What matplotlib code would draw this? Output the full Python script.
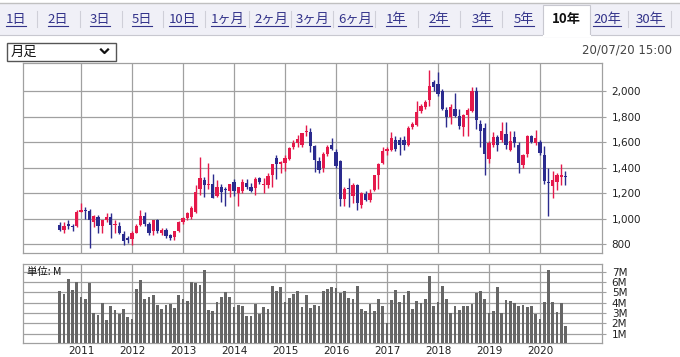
import numpy as np
import matplotlib.pyplot as plt
from matplotlib.patches import Rectangle

# 月足 data, Aug 2010 .. Jul 2020 (one entry per month)
opens = [950, 910, 960, 935, 940, 1055, 1065, 1060, 975, 1015, 945, 985,
         1015, 950, 940, 880, 850, 840, 890, 950, 1020, 960, 905, 990,
         890, 910, 870, 855, 905, 975, 1005, 1015, 1055, 1235, 1300, 1265,
         1275, 1180, 1250, 1230, 1220, 1290, 1200, 1220, 1280, 1250, 1240, 1315,
         1265, 1265, 1340, 1475, 1425, 1440, 1470, 1560, 1590, 1575, 1680, 1680,
         1570, 1450, 1395, 1505, 1580, 1525, 1450, 1150, 1235, 1180, 1260, 1110,
         1190, 1145, 1225, 1345, 1435, 1530, 1540, 1620, 1620, 1615, 1575, 1720,
         1735, 1845, 1875, 1930, 2070, 2060, 2000, 1850, 1800, 1860, 1805, 1720,
         1810, 1845, 2000, 1745, 1715, 1465, 1575, 1640, 1615, 1665, 1540, 1640,
         1580, 1420, 1505, 1645, 1590, 1600, 1500, 1290, 1255, 1290, 1330, 1335]
highs = [975, 975, 990, 960, 1065, 1120, 1090, 1075, 1025, 1030, 990, 1040,
         1045, 990, 970, 900, 865, 900, 960, 1070, 1055, 975, 990, 1000,
         925, 925, 880, 905, 980, 1010, 1050, 1095, 1260, 1485, 1325, 1440,
         1350, 1300, 1270, 1250, 1275, 1310, 1250, 1310, 1310, 1280, 1325, 1330,
         1320, 1360, 1430, 1500, 1450, 1500, 1560, 1620, 1660, 1675, 1735, 1710,
         1580, 1485, 1520, 1580, 1630, 1550, 1460, 1250, 1315, 1280, 1270, 1210,
         1220, 1235, 1340, 1435, 1565, 1565, 1680, 1650, 1640, 1650, 1730, 1760,
         1920, 1900, 1930, 2170, 2090, 2150, 2020, 1880, 1900, 1990, 1860, 1820,
         1870, 2030, 2030, 1775, 1750, 1610, 1680, 1660, 1760, 1760, 1690, 1690,
         1600, 1510, 1660, 1660, 1695, 1620, 1570, 1400, 1370, 1360, 1425, 1375]
lows = [900, 890, 920, 900, 935, 1050, 1000, 770, 930, 890, 890, 975,
        850, 890, 880, 790, 810, 795, 885, 940, 940, 870, 870, 890,
        870, 850, 830, 830, 895, 960, 990, 1000, 1045, 1185, 1170, 1230,
        1160, 1170, 1130, 1100, 1170, 1175, 1095, 1200, 1230, 1210, 1185, 1270,
        1200, 1240, 1245, 1310, 1360, 1370, 1460, 1545, 1560, 1560, 1650, 1525,
        1365, 1355, 1365, 1490, 1540, 1400, 1100, 1100, 1090, 1120, 1070, 1080,
        1140, 1130, 1215, 1230, 1425, 1500, 1530, 1530, 1500, 1540, 1570, 1700,
        1730, 1830, 1860, 1885, 2000, 1960, 1850, 1720, 1740, 1800, 1700, 1650,
        1650, 1840, 1700, 1560, 1340, 1435, 1560, 1530, 1600, 1550, 1530, 1560,
        1360, 1400, 1480, 1590, 1580, 1500, 1270, 1020, 1165, 1225, 1260, 1260]
closes = [910, 945, 940, 930, 1055, 1065, 1060, 990, 1020, 940, 985, 1015,
          950, 955, 890, 820, 835, 885, 945, 1020, 955, 890, 985, 905,
          910, 860, 850, 900, 975, 1005, 1040, 1085, 1205, 1320, 1260, 1270,
          1165, 1250, 1210, 1225, 1275, 1220, 1250, 1285, 1250, 1220, 1310, 1285,
          1270, 1335, 1425, 1425, 1445, 1475, 1555, 1590, 1625, 1675, 1690, 1570,
          1460, 1380, 1510, 1560, 1545, 1415, 1150, 1235, 1230, 1260, 1125, 1200,
          1145, 1200, 1340, 1430, 1530, 1545, 1635, 1545, 1580, 1580, 1715, 1740,
          1835, 1885, 1915, 2040, 2030, 1975, 1860, 1800, 1880, 1805, 1725, 1810,
          1850, 2000, 1775, 1690, 1510, 1590, 1640, 1580, 1690, 1580, 1610, 1590,
          1435, 1500, 1650, 1605, 1630, 1515, 1295, 1280, 1305, 1340, 1345, 1325]
volumes = [5.16, 4.87, 6.32, 5.26, 6.03, 4.58, 4.39, 5.94, 3.0, 2.84, 4.0, 2.35,
           3.71, 3.32, 2.94, 3.42, 2.65, 2.45, 5.35, 6.23, 4.39, 4.58, 4.77, 3.81,
           3.42, 3.81, 3.9, 3.52, 4.77, 4.39, 4.19, 6.03, 5.94, 5.74, 7.19, 3.32,
           3.23, 4.1, 4.58, 5.06, 4.58, 3.61, 3.81, 3.71, 2.74, 2.74, 3.9, 2.94,
           3.61, 3.42, 5.65, 5.16, 5.55, 4.03, 4.48, 4.87, 5.16, 3.61, 4.77, 3.52,
           3.81, 3.71, 5.16, 5.35, 5.55, 5.45, 4.97, 5.16, 4.48, 4.39, 5.65, 3.42,
           3.23, 3.9, 3.23, 4.39, 3.71, 2.06, 4.29, 5.26, 4.1, 4.77, 5.16, 3.42,
           4.19, 4.0, 4.39, 6.61, 3.71, 4.1, 5.65, 4.39, 3.03, 3.71, 3.32, 3.71,
           3.71, 3.9, 4.97, 5.16, 4.39, 3.03, 3.23, 5.55, 3.03, 4.29, 4.19, 4.0,
           3.71, 3.81, 3.61, 3.71, 2.94, 2.45, 4.1, 7.19, 4.1, 3.13, 4.0, 1.77]
start_year, start_month = 2010, 8
years = list(range(2011, 2021))
price_ticks = [800, 1000, 1200, 1400, 1600, 1800, 2000]
vol_ticks = [1, 2, 3, 4, 5, 6, 7]
tabs = ['1日', '2日', '3日', '5日', '10日', '1ヶ月', '2ヶ月', '3ヶ月', '6ヶ月',
        '1年', '2年', '3年', '5年', '10年', '20年', '30年']
selected_tab = '10年'
timestamp = '20/07/20 15:00'

W, H = 680, 357
RED = '#e5194b'
NAVY = '#2b2b8e'
GRID = '#a0a0a0'
JP = ['Noto Sans CJK JP', 'DejaVu Sans']

fig = plt.figure(figsize=(W / 100, H / 100), dpi=100)

# background layer in pixel coordinates for the page widgets
bg = fig.add_axes([0, 0, 1, 1])
bg.set_xlim(0, W)
bg.set_ylim(H, 0)
bg.axis('off')

bg.add_patch(Rectangle((0, 3), W, 32, facecolor='#f0f0f7', edgecolor='none'))
bg.plot([0, W], [2.5, 2.5], color='#c0c0c0', lw=1)
bg.plot([0, 543], [35, 35], color='#c8c8d0', lw=0.8)
bg.plot([590, W], [35, 35], color='#c8c8d0', lw=0.8)
bg.add_patch(Rectangle((543, 5), 47, 31, facecolor='white', edgecolor='#c8c8d0', lw=0.8))
bg.plot([543.5, 589.5], [35.5, 35.5], color='white', lw=1.5)

tab_x = [16, 58, 100, 142, 183, 228, 271, 313, 355, 396, 439, 482, 524, 566, 607, 650]
sep_x = [37, 80, 122, 163, 205, 249, 291, 333, 375, 418, 460, 502, 628, 671]
for sx in sep_x:
    bg.plot([sx, sx], [11, 27], color='#cfcfd8', lw=0.8)

tab_texts = []
for name, tx in zip(tabs, tab_x):
    if name == selected_tab:
        bg.text(tx, 19, name, ha='center', va='center', fontsize=9.5,
                fontweight='bold', color='#111111', family=JP)
    else:
        t = bg.text(tx, 19, name, ha='center', va='center', fontsize=9.5,
                    color='#33338a', family=JP)
        tab_texts.append(t)

# dropdown
bg.add_patch(Rectangle((7, 43), 109, 18, facecolor='white', edgecolor='#555555', lw=1))
bg.text(11, 52.5, '月足', ha='left', va='center', fontsize=9.5, color='#111111', family=JP)
bg.plot([101, 104.5, 108], [49.5, 53, 49.5], color='#111111', lw=1.6)
bg.text(672, 50, timestamp, ha='right', va='center', fontsize=8.5, color='#444444')

# months as x positions
n = len(opens)
x = np.arange(n)
jan_idx = [(y - start_year) * 12 + 1 - start_month for y in years]
xlim = (-8.65, 127.6)

o = np.array(opens, dtype=float)
c = np.array(closes, dtype=float)
colors = [RED if cc >= oo else NAVY for oo, cc in zip(o, c)]

ax = fig.add_axes([23 / W, 1 - 253 / H, 579 / W, 190 / H])
ax.vlines(x, lows, highs, colors=colors, lw=1.0, zorder=3)
ax.bar(x, np.maximum(np.abs(c - o), 8), bottom=np.minimum(o, c), width=0.75,
       color=colors, zorder=4)
ax.set_xlim(*xlim)
ax.set_ylim(729, 2222)
ax.set_xticks(jan_idx)
ax.set_xticklabels([])
ax.set_yticks(price_ticks)
ax.set_yticklabels([f'{v:,}' for v in price_ticks])
ax.yaxis.tick_right()
ax.grid(True, color=GRID, lw=0.9)
ax.tick_params(axis='x', length=0)
ax.tick_params(axis='y', length=3, width=0.8, color=GRID, labelsize=7.5,
               labelcolor='#222222', pad=4)
for s in ax.spines.values():
    s.set_color(GRID)
    s.set_linewidth(0.9)

axv = fig.add_axes([23 / W, 1 - 343 / H, 579 / W, 79 / H])
axv.bar(x, volumes, width=0.62, color='#666666', zorder=3)
axv.set_xlim(*xlim)
axv.set_ylim(0.1, 7.74)
axv.set_xticks(jan_idx)
axv.set_xticklabels([str(y) for y in years])
axv.set_yticks(vol_ticks)
axv.set_yticklabels([f'{v}M' for v in vol_ticks])
axv.yaxis.tick_right()
axv.grid(True, color=GRID, lw=0.9)
axv.tick_params(axis='x', length=0, labelsize=7.5, labelcolor='#222222', pad=2)
axv.tick_params(axis='y', length=3, width=0.8, color=GRID, labelsize=7.5,
                labelcolor='#222222', pad=4)
for s in axv.spines.values():
    s.set_color(GRID)
    s.set_linewidth(0.9)
axv.text(0.007, 0.9, '単位: M', transform=axv.transAxes, ha='left', va='center',
         fontsize=7.5, color='#111111', family=JP, zorder=5)

# underline the link tabs
fig.canvas.draw()
inv = bg.transData.inverted()
for t in tab_texts:
    bb = t.get_window_extent()
    (x0, _), (x1, _) = inv.transform([(bb.x0, bb.y0), (bb.x1, bb.y0)])
    bg.plot([x0, x1], [26, 26], color='#33338a', lw=0.8)

fig.savefig('out.png', dpi=100)
